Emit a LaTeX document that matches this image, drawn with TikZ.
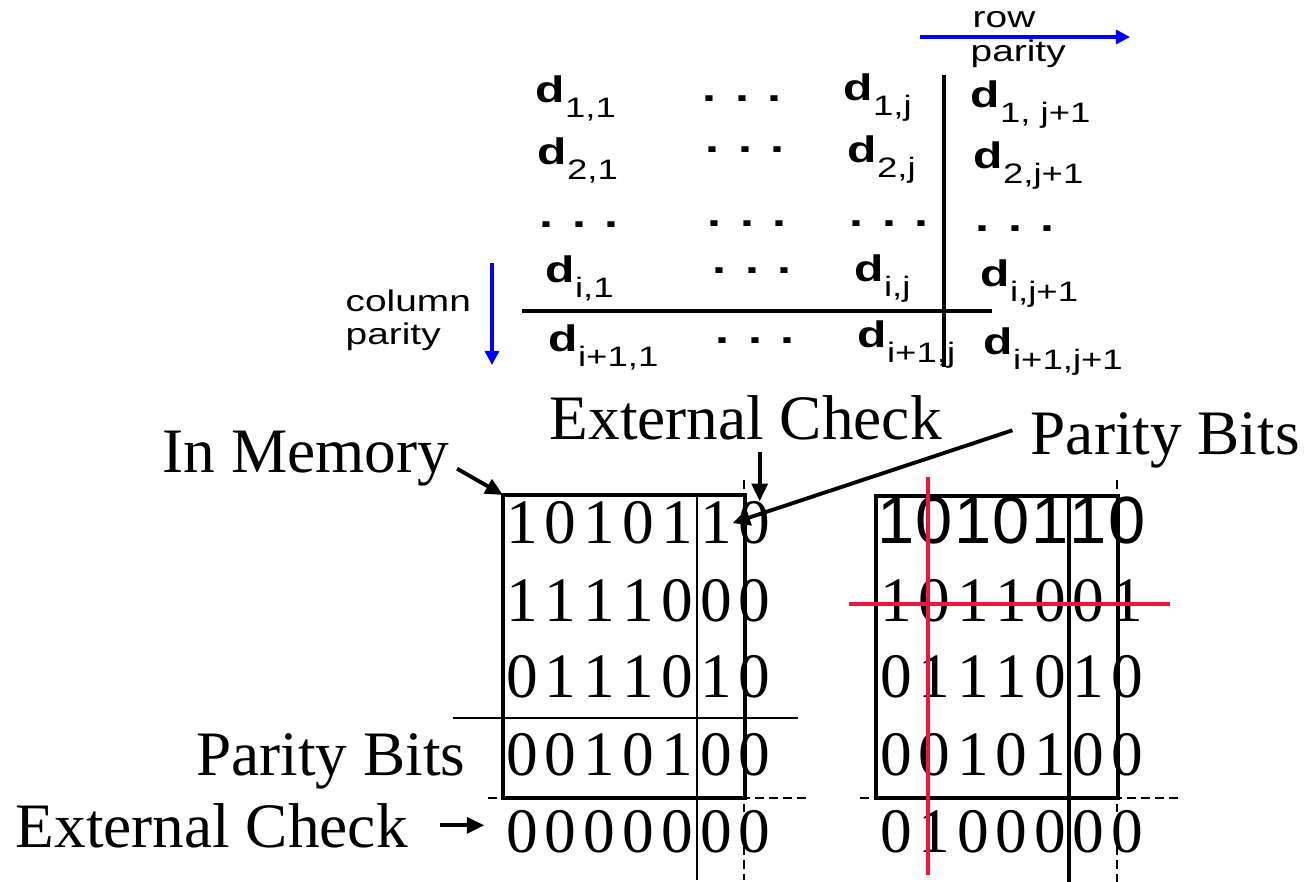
\documentclass[tikz,border=0pt]{standalone}
\usepackage{fontspec}
\setmainfont{Liberation Serif}
\setsansfont{Liberation Sans}
\usepackage{graphicx}
\usetikzlibrary{positioning}
\usetikzlibrary{arrows.meta}
\usetikzlibrary{calc}
\definecolor{flipred}{RGB}{240,20,60}
\tikzset{>={Triangle[length=5pt,width=4.5pt]}}
\tikzset{lbl/.style={inner sep=0pt,font=\fontsize{18}{20}\selectfont}}
\tikzset{bit/.style={inner sep=0pt,anchor=base,font=\fontsize{18}{20}\selectfont}}
\tikzset{sbit/.style={bit,font=\sffamily\fontsize{19}{21}\selectfont}}
\tikzset{ent/.style={inner sep=0pt,anchor=base west}}
\tikzset{note/.style={inner sep=0pt,anchor=base west,font=\sffamily\fontsize{8.5}{10}\selectfont}}
\tikzset{frame/.style={line width=1.3pt}}
\tikzset{hair/.style={line width=0.35pt}}
\tikzset{guide/.style={line width=0.35pt,dash pattern=on 2.5pt off 1.5pt}}
\tikzset{bar/.style={line width=1pt}}
\tikzset{flip/.style={line width=1.4pt,draw=flipred}}
\tikzset{arr/.style={->,line width=1.1pt}}
\tikzset{parrow/.style={-{Triangle[length=4pt,width=4pt]},line width=0.9pt,draw=blue}}
\newcommand{\wide}[1]{\scalebox{1.3}[1]{#1}}
\newcommand{\dent}[1]{\wide{\sffamily{\fontsize{10.5}{12}\selectfont\bfseries d}\raisebox{-4pt}{\fontsize{8}{10}\selectfont #1}}}
\newcommand{\dts}{\wide{\sffamily\bfseries\fontsize{11}{13}\selectfont . . .}}

\begin{document}
\begin{tikzpicture}[x=0.01cm, y=-0.01cm]
\useasboundingbox (0,0) rectangle (1305,882);

% general scheme
\node[note] (rowtxt) at (972,28) {\wide{row}};
\node[note] (rowpar) at (970,62) {\wide{parity}};
\coordinate (rp0) at (920,37);
\coordinate (rp1) at (1130,37);
\draw[parrow] (rp0) -- (rp1);

\node[note] (coltxt) at (345,312) {\wide{column}};
\node[note] (colpar) at (345,345) {\wide{parity}};
\coordinate (cp0) at (492,263);
\coordinate (cp1) at (492,365);
\draw[parrow] (cp0) -- (cp1);

\node[ent] (d11) at (535,103) {\dent{1,1}};
\node[ent] (d1j) at (843,101) {\dent{1,j}};
\node[ent] (d1k) at (970,108) {\dent{1, j+1}};
\node[ent] (d21) at (537,165) {\dent{2,1}};
\node[ent] (d2j) at (847,163) {\dent{2,j}};
\node[ent] (d2k) at (973,169) {\dent{2,j+1}};
\node[ent] (di1) at (545,283) {\dent{i,1}};
\node[ent] (dij) at (854,282) {\dent{i,j}};
\node[ent] (dik) at (980,287) {\dent{i,j+1}};
\node[ent] (dn1) at (548,352) {\dent{i+1,1}};
\node[ent] (dnj) at (857,348) {\dent{i+1,j}};
\node[ent] (dnk) at (983,355) {\dent{i+1,j+1}};

\node[ent] (e12) at (702,102) {\dts};
\node[ent] (e22) at (705,153) {\dts};
\node[ent] (e31) at (539,228) {\dts};
\node[ent] (e32) at (707,227) {\dts};
\node[ent] (e33) at (849,227) {\dts};
\node[ent] (e34) at (975,232) {\dts};
\node[ent] (e42) at (712,274) {\dts};
\node[ent] (e52) at (715,344) {\dts};

\draw[bar] (944,75) -- (944,367);
\draw[bar] (522,311) -- (992,311);

% stored block
\foreach \bits [count=\r] in {{1,0,1,0,1,1,0},{1,1,1,1,0,0,0},{0,1,1,1,0,1,0},{0,0,1,0,1,0,0},{0,0,0,0,0,0,0}}
  \foreach \b [count=\c] in \bits
    \node[bit] (L-\r-\c) at ({522+38.8*(\c-1)},{544+77*(\r-1)}) {\b};

\coordinate (Lnw) at (503,495);
\coordinate (Lse) at (745,798);
\draw[frame] (Lnw) rectangle (Lse);
\draw[hair] (697,495) -- (697,880);
\draw[hair] (453,718) -- (798,718);
\draw[guide] (744,480) -- (744,880);
\draw[guide] (488,798) -- (808,798);

% block with one flipped bit
\foreach \b [count=\c] in {1,0,1,0,1,1,0}
  \node[sbit] (R-1-\c) at ({896+38.5*(\c-1)},544) {\b};
\foreach \bits [count=\r from 2] in {{1,0,1,1,0,0,1},{0,1,1,1,0,1,0},{0,0,1,0,1,0,0},{0,1,0,0,0,0,0}}
  \foreach \b [count=\c] in \bits
    \node[bit] (R-\r-\c) at ({896+38.5*(\c-1)},{544+77*(\r-1)}) {\b};

\coordinate (Rnw) at (876,496);
\coordinate (Rse) at (1118,798);
\draw[frame] (Rnw) rectangle (Rse);
\draw[frame] (1069,496) -- (1069,882);
\draw[guide] (1117,480) -- (1117,882);
\draw[guide] (860,798) -- (1182,798);
\draw[flip] (928,477) -- (928,875);
\draw[flip] (849,604) -- (1170,604);

% labels
\node[lbl, anchor=base east] (mem) at (450,472) {In Memory};
\node[lbl, anchor=base west] (chkTop) at (549,440) {External Check};
\node[lbl, anchor=base west] (pbTop) at (1030,455) {Parity Bits};
\node[lbl, anchor=base east] (pbBot) at (466,775) {Parity Bits};
\node[lbl, anchor=base west] (chkBot) at (15,847) {External Check};

\draw[arr] ([xshift=2pt,yshift=-3pt]mem.east) -- (Lnw);
\draw[arr] ([xshift=1.4pt,yshift=-3pt]chkTop.south -| L-1-7.north) -- ([xshift=1.4pt]L-1-7.north);
\draw[arr] ([xshift=-5pt,yshift=3pt]pbTop.west) -- (L-1-6.east);
\draw[arr] ([xshift=9pt]chkBot.east) -- ([xshift=-6pt]chkBot.east -| L-5-1.west);

\end{tikzpicture}
\end{document}
